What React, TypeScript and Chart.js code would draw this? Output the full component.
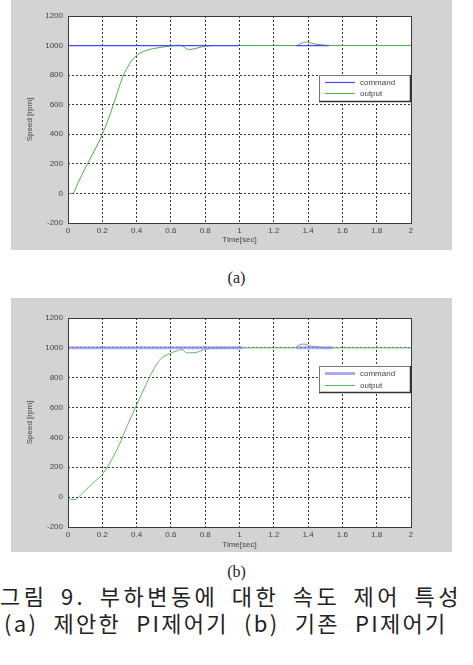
import React, { useEffect, useRef } from "react";
import { Chart, registerables } from "chart.js";

Chart.register(...registerables);

// ---- data ----
const xTickValues = [0, 0.2, 0.4, 0.6, 0.8, 1, 1.2, 1.4, 1.6, 1.8, 2];
const yTickValues = [-200, 0, 200, 400, 600, 800, 1000, 1200];

// (a) proposed PI controller
const commandTimesA = [0, 1.0, 1.0, 1.33, 1.52];
const commandValuesA = [1000, 1000, null, 1000, 1000];
const outputTimesA = [0, 0.025, 0.06, 0.1, 0.15, 0.2, 0.25, 0.29, 0.32, 0.35, 0.38, 0.42, 0.46, 0.5, 0.55, 0.6, 0.645, 0.67, 0.69, 0.71, 0.75, 0.78, 0.84, 0.9, 1.0, 1.2, 1.33, 1.36, 1.39, 1.42, 1.45, 1.5, 1.55, 2.0];
const outputValuesA = [0, 0, 75, 170, 280, 400, 550, 690, 790, 860, 910, 948, 968, 980, 990, 997, 1003, 996, 978, 974, 982, 991, 1000, 1000, 1000, 1000, 1000, 1015, 1025, 1015, 1008, 1003, 1000, 1000];

// (b) conventional PI controller
const commandTimesB = [0, 1.02, 1.02, 1.33, 1.54];
const commandValuesB = [1000, 1000, null, 1000, 1000];
const outputTimesB = [0, 0.014, 0.04, 0.08, 0.14, 0.195, 0.24, 0.297, 0.346, 0.39, 0.443, 0.49, 0.54, 0.59, 0.64, 0.665, 0.69, 0.73, 0.766, 0.8, 0.88, 1.0, 1.2, 1.33, 1.35, 1.38, 1.41, 1.43, 1.46, 1.51, 1.6, 2.0];
const outputValuesB = [0, -16, -16, 22, 89, 145, 223, 346, 480, 591, 725, 837, 926, 960, 982, 989, 967, 967, 975, 993, 998, 1000, 1000, 1000, 1022, 1025, 1012, 1010, 1006, 1000, 1000, 1000];

const legendLabels = ["command", "output"];
const xTitle = "Time[sec]";
const yTitle = "Speed [rpm]";

type PlotProps = {
  cmdT: number[];
  cmdV: (number | null)[];
  outT: number[];
  outV: number[];
  width: number;
  height: number;
  padTop: number;
  xAxisHeight: number;
  xTitlePad: number;
  legendTop: number;
  cmdColor: string;
  cmdWidth: number;
  outColor: string;
  outWidth: number;
  legendCmdY: number;
  legendOutY: number;
};

function Plot(p: PlotProps) {
  const ref = useRef<HTMLCanvasElement | null>(null);
  useEffect(() => {
    if (!ref.current) return;
    const frameBg = {
      id: "frameBg",
      beforeDraw(chart: any) {
        const { ctx, chartArea: a } = chart;
        ctx.save();
        ctx.fillStyle = "#d3d3d3";
        ctx.fillRect(0, 0, chart.width, chart.height);
        ctx.fillStyle = "#ffffff";
        ctx.fillRect(a.left, a.top, a.right - a.left, a.bottom - a.top);
        ctx.restore();
      },
      afterDatasetsDraw(chart: any) {
        const { ctx, chartArea: a } = chart;
        ctx.save();
        ctx.strokeStyle = "#3a3a3a";
        ctx.lineWidth = 1;
        ctx.strokeRect(Math.round(a.left) + 0.5, Math.round(a.top) + 0.5, Math.round(a.right - a.left), Math.round(a.bottom - a.top));
        // legend
        const bx = Math.round(a.right) - 92;
        const by = Math.round(a.top) + p.legendTop;
        const bw = 91;
        const bh = 26;
        ctx.fillStyle = "#ffffff";
        ctx.fillRect(bx, by, bw, bh);
        ctx.strokeStyle = "#777";
        ctx.strokeRect(bx + 0.5, by + 0.5, bw, bh);
        ctx.strokeStyle = "#333";
        ctx.lineWidth = 1.5;
        ctx.beginPath();
        ctx.moveTo(bx + bw + 0.5, by);
        ctx.lineTo(bx + bw + 0.5, by + bh + 0.5);
        ctx.lineTo(bx, by + bh + 0.5);
        ctx.stroke();
        const items = [
          { label: legendLabels[0], color: p.cmdColor, w: p.cmdWidth, y: by + p.legendCmdY + 0.5 },
          { label: legendLabels[1], color: p.outColor, w: p.outWidth, y: by + p.legendOutY + 0.5 },
        ];
        ctx.font = "8px 'Liberation Sans', Arial, sans-serif";
        ctx.textBaseline = "middle";
        ctx.textAlign = "left";
        for (const it of items) {
          ctx.strokeStyle = it.color;
          ctx.lineWidth = it.w;
          ctx.beginPath();
          ctx.moveTo(bx + 6, it.y);
          ctx.lineTo(bx + 36, it.y);
          ctx.stroke();
          ctx.fillStyle = "#444";
          ctx.fillText(it.label, bx + 41, it.y);
        }
        ctx.restore();
      },
    };

    const font = { family: "'Liberation Sans', Arial, sans-serif", size: 8 };
    const chart = new Chart(ref.current, {
      type: "line",
      data: {
        datasets: [
          {
            label: legendLabels[0],
            data: p.cmdT.map((t, i) => ({ x: t, y: p.cmdV[i] as any })),
            borderColor: p.cmdColor,
            borderWidth: p.cmdWidth,
            pointRadius: 0,
            spanGaps: false,
            fill: false,
          },
          {
            label: legendLabels[1],
            data: p.outT.map((t, i) => ({ x: t, y: p.outV[i] })),
            borderColor: p.outColor,
            borderWidth: p.outWidth,
            pointRadius: 0,
            cubicInterpolationMode: "monotone",
            fill: false,
          },
        ],
      },
      options: {
        animation: false,
        responsive: false,
        maintainAspectRatio: false,
        layout: { padding: { top: p.padTop, right: 41, left: 0, bottom: 0 } },
        plugins: { legend: { display: false }, tooltip: { enabled: false } },
        scales: {
          x: {
            type: "linear",
            min: 0,
            max: 2,
            afterBuildTicks: (s: any) => {
              s.ticks = xTickValues.map((v) => ({ value: v }));
            },
            afterFit: (s: any) => {
              s.height = p.xAxisHeight;
            },
            ticks: {
              autoSkip: false,
              maxRotation: 0,
              padding: 3,
              color: "#444",
              font,
              callback: (v: any) => String(+Number(v).toFixed(1)),
            },
            grid: { color: "#333", lineWidth: 1, drawTicks: false },
            border: { display: false, dash: [2, 2] },
            title: { display: true, text: xTitle, color: "#444", font, padding: { top: 0, bottom: p.xTitlePad } },
          },
          y: {
            type: "linear",
            min: -200,
            max: 1200,
            afterBuildTicks: (s: any) => {
              s.ticks = yTickValues.map((v) => ({ value: v }));
            },
            afterFit: (s: any) => {
              s.width = 57;
            },
            ticks: { autoSkip: false, padding: 5, color: "#444", font, callback: (v: any) => String(v) },
            grid: { color: "#333", lineWidth: 1, drawTicks: false },
            border: { display: false, dash: [2, 2] },
            title: { display: true, text: yTitle, color: "#444", font, padding: { top: 14, bottom: 0 } },
          },
        },
      },
      plugins: [frameBg],
    } as any);
    return () => chart.destroy();
  }, []);
  return <canvas ref={ref} width={p.width} height={p.height} style={{ display: "block", width: p.width, height: p.height }} />;
}

const captionA = "(a)";
const captionB = "(b)";
const figLine1 = "그림 9. 부하변동에 대한 속도 제어 특성";
const figLine2 = "(a) 제안한 PI제어기 (b) 기존 PI제어기";

export default function App() {
  const serif = "'Liberation Serif', 'Times New Roman', serif";
  const kr = "'Noto Sans CJK KR', 'Noto Sans', sans-serif";
  return (
    <div style={{ position: "absolute", left: 0, top: 0, width: 473, height: 665, background: "#fff", overflow: "hidden" }}>
      <style>{"body{margin:0}"}</style>
      <div style={{ position: "absolute", left: 11, top: 0 }}>
        <Plot
          cmdT={commandTimesA}
          cmdV={commandValuesA}
          outT={outputTimesA}
          outV={outputValuesA}
          width={441}
          height={250}
          padTop={16}
          xAxisHeight={27}
          xTitlePad={5}
          legendTop={59}
          cmdColor="#4848ff"
          cmdWidth={1.2}
          outColor="#4cae4c"
          outWidth={1}
          legendCmdY={7}
          legendOutY={18}
        />
      </div>
      <div style={{ position: "absolute", left: 0, width: 473, top: 268, height: 20, lineHeight: "20px", textAlign: "center", fontFamily: serif, fontSize: 16, color: "#222" }}>{captionA}</div>
      <div style={{ position: "absolute", left: 11, top: 298 }}>
        <Plot
          cmdT={commandTimesB}
          cmdV={commandValuesB}
          outT={outputTimesB}
          outV={outputValuesB}
          width={441}
          height={254}
          padTop={20}
          xAxisHeight={25}
          xTitlePad={2}
          legendTop={48}
          cmdColor="rgba(140,140,240,0.75)"
          cmdWidth={3}
          outColor="#5cb85c"
          outWidth={1}
          legendCmdY={7}
          legendOutY={19}
        />
      </div>
      <div style={{ position: "absolute", left: 0, width: 473, top: 562, height: 20, lineHeight: "20px", textAlign: "center", fontFamily: serif, fontSize: 16, color: "#222" }}>{captionB}</div>
      <div style={{ position: "absolute", left: 0, top: 582, height: 26, lineHeight: "26px", fontFamily: kr, fontSize: 22, letterSpacing: 3.5, wordSpacing: 5, color: "#222", whiteSpace: "nowrap" }}>{figLine1}</div>
      <div style={{ position: "absolute", left: 4, top: 609, height: 26, lineHeight: "26px", fontFamily: kr, fontSize: 22, letterSpacing: 2.3, wordSpacing: 8, color: "#222", whiteSpace: "nowrap" }}>{figLine2}</div>
    </div>
  );
}
